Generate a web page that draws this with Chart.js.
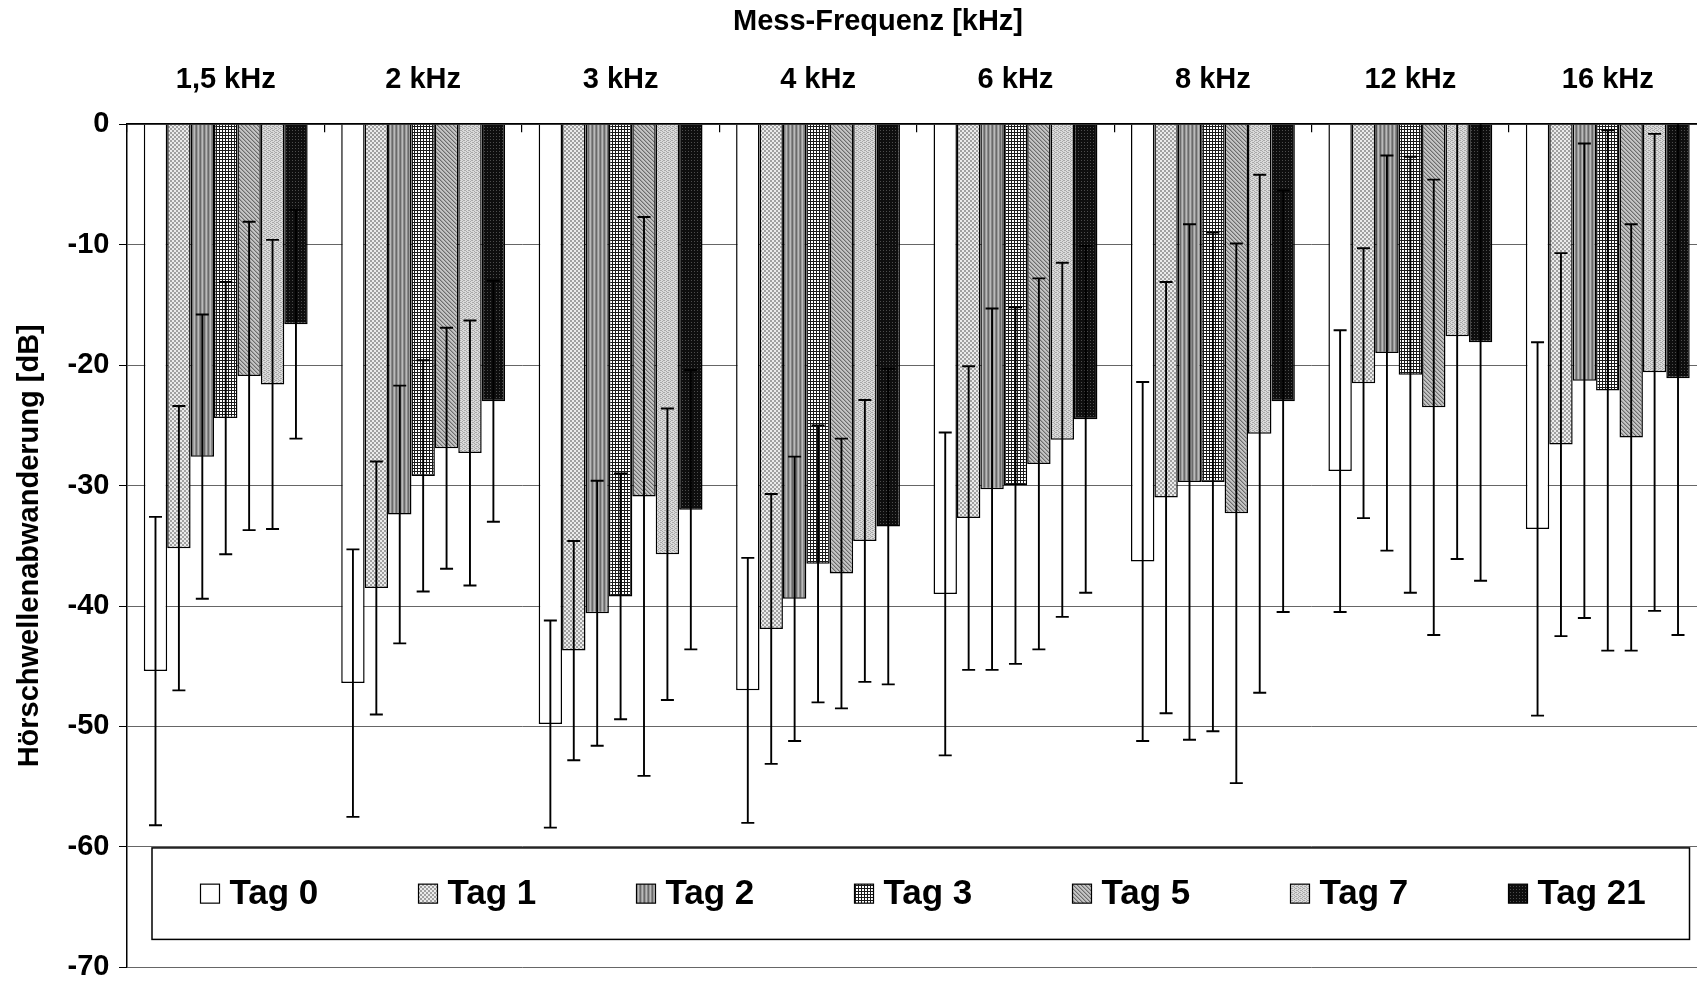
<!DOCTYPE html>
<html>
<head>
<meta charset="utf-8">
<title>Hörschwellenabwanderung</title>
<script src="https://cdn.jsdelivr.net/npm/chart.js@4.4.1/dist/chart.umd.min.js"></script>
<style>
  html, body { margin: 0; padding: 0; background: #fff; overflow: hidden; }
  #wrap { position: relative; width: 1712px; height: 983px; }
</style>
</head>
<body>
<div id="wrap"><canvas id="chart"></canvas></div>
<script>
const frequencies = ['1,5 kHz', '2 kHz', '3 kHz', '4 kHz', '6 kHz', '8 kHz', '12 kHz', '16 kHz']
const days = ['Tag 0', 'Tag 1', 'Tag 2', 'Tag 3', 'Tag 5', 'Tag 7', 'Tag 21']
const yTicks = [0, -10, -20, -30, -40, -50, -60, -70]

// mean threshold shift per day (dB), one value per frequency
const tag0 = [-45.4, -46.4, -49.8, -47.0, -39.0, -36.3, -28.8, -33.6]
const tag1 = [-35.2, -38.5, -43.7, -41.9, -32.7, -31.0, -21.5, -26.6]
const tag2 = [-27.6, -32.4, -40.6, -39.4, -30.3, -29.7, -19.0, -21.3]
const tag3 = [-24.4, -29.2, -39.2, -36.5, -30.0, -29.7, -20.8, -22.1]
const tag5 = [-20.9, -26.9, -30.9, -37.3, -28.2, -32.3, -23.5, -26.0]
const tag7 = [-21.6, -27.3, -35.7, -34.6, -26.2, -25.7, -17.6, -20.6]
const tag21 = [-16.6, -23.0, -32.0, -33.4, -24.5, -23.0, -18.1, -21.1]

// standard deviations for the error bars
const sd0 = [12.8, 11.1, 8.6, 11.0, 13.4, 14.9, 11.7, 15.5]
const sd1 = [11.8, 10.5, 9.1, 11.2, 12.6, 17.9, 11.2, 15.9]
const sd2 = [11.8, 10.7, 11.0, 11.8, 15.0, 21.4, 16.4, 19.7]
const sd3 = [11.3, 9.6, 10.2, 11.5, 14.8, 20.7, 18.1, 21.6]
const sd5 = [12.8, 10.0, 23.2, 11.2, 15.4, 22.4, 18.9, 17.7]
const sd7 = [12.0, 11.0, 12.1, 11.7, 14.7, 21.5, 18.5, 19.8]
const sd21 = [9.5, 10.0, 11.6, 13.1, 14.4, 17.5, 19.8, 21.3]

const means = [tag0, tag1, tag2, tag3, tag5, tag7, tag21]
const spreads = [sd0, sd1, sd2, sd3, sd5, sd7, sd21]

const FONT = "'Liberation Sans', Arial, sans-serif"

// small repeating tiles for the grey-scale bar fills
const tile = (w, h, draw) => {
  const c = document.createElement('canvas')
  c.width = w
  c.height = h
  const g = c.getContext('2d')
  draw(g)
  return g.createPattern(c, 'repeat')
}
const dots = (g, color, cells) => {
  g.fillStyle = color
  cells.forEach(([x, y]) => g.fillRect(x, y, 1, 1))
}

const fills = [
  '#ffffff',
  tile(4, 4, g => {
    g.fillStyle = '#ebebeb'
    g.fillRect(0, 0, 4, 4)
    dots(g, '#a0a0a0', [[2, 0], [3, 0], [2, 1], [3, 1], [0, 2], [1, 2], [0, 3], [1, 3]])
  }),
  tile(4, 1, g => {
    ;['#6a6a6a', '#9c9c9c', '#bababa', '#888888'].forEach((col, i) => {
      g.fillStyle = col
      g.fillRect(i, 0, 1, 1)
    })
  }),
  tile(3, 3, g => {
    g.fillStyle = '#ffffff'
    g.fillRect(0, 0, 3, 3)
    g.fillStyle = '#1a1a1a'
    g.fillRect(0, 0, 3, 1)
    g.fillRect(0, 0, 1, 3)
  }),
  tile(4, 4, g => {
    g.fillStyle = '#c4c4c4'
    g.fillRect(0, 0, 4, 4)
    dots(g, '#6c6c6c', [[0, 0], [1, 1], [2, 2], [3, 3]])
    dots(g, '#a0a0a0', [[1, 0], [2, 1], [3, 2], [0, 3]])
  }),
  tile(4, 4, g => {
    g.fillStyle = '#dadada'
    g.fillRect(0, 0, 4, 4)
    dots(g, '#a8a8a8', [[0, 0], [2, 1], [0, 2], [2, 3], [3, 0], [1, 2]])
  }),
  tile(3, 3, g => {
    g.fillStyle = '#0e0e0e'
    g.fillRect(0, 0, 3, 3)
    dots(g, '#4c4c4c', [[1, 1]])
  })
]

// mean ± sd whiskers, clipped to the plot area like the axis range
const errorBars = {
  id: 'errorBars',
  afterDatasetsDraw(chart) {
    const { ctx, chartArea } = chart
    const y = chart.scales.y
    ctx.save()
    ctx.beginPath()
    ctx.rect(chartArea.left, chartArea.top, chartArea.width, chartArea.height)
    ctx.clip()
    ctx.strokeStyle = '#000'
    ctx.lineWidth = 1.9
    chart.data.datasets.forEach((ds, i) => {
      chart.getDatasetMeta(i).data.forEach((bar, j) => {
        const v = ds.data[j]
        const e = ds.errors[j]
        const y1 = y.getPixelForValue(v + e)
        const y2 = y.getPixelForValue(v - e)
        ctx.beginPath()
        ctx.moveTo(bar.x, y1)
        ctx.lineTo(bar.x, y2)
        ctx.moveTo(bar.x - 6.5, y1)
        ctx.lineTo(bar.x + 6.5, y1)
        ctx.moveTo(bar.x - 6.5, y2)
        ctx.lineTo(bar.x + 6.5, y2)
        ctx.stroke()
      })
    })
    ctx.restore()
  }
}

// heading above the frequency labels and the boxed legend inside the plot
const frame = {
  id: 'frame',
  afterDraw(chart) {
    const { ctx, chartArea } = chart
    ctx.save()
    ctx.fillStyle = '#000'
    ctx.font = `bold 29px ${FONT}`
    ctx.textAlign = 'center'
    ctx.textBaseline = 'middle'
    ctx.fillText('Mess-Frequenz [kHz]', 878, 22)

    const left = chartArea.left + 25
    const right = chartArea.right - 17
    const top = chartArea.bottom - 119.5
    const bottom = chartArea.bottom - 28
    ctx.fillStyle = '#fff'
    ctx.fillRect(left, top, right - left, bottom - top)
    ctx.strokeStyle = '#000'
    ctx.lineWidth = 1.5
    ctx.strokeRect(left, top, right - left, bottom - top)

    const mid = (top + bottom) / 2
    ctx.font = `bold 35px ${FONT}`
    ctx.textAlign = 'left'
    chart.data.datasets.forEach((ds, i) => {
      const x = left + 48.5 + i * 218
      ctx.fillStyle = ds.backgroundColor
      ctx.fillRect(x, mid - 9.5, 19, 19)
      ctx.lineWidth = 1.2
      ctx.strokeRect(x, mid - 9.5, 19, 19)
      ctx.fillStyle = '#000'
      ctx.fillText(ds.label, x + 29, mid + 1)
    })
    ctx.restore()
  }
}

const tickFont = { family: FONT, size: 29, weight: 'bold', lineHeight: 1 }

new Chart(document.getElementById('chart'), {
  type: 'bar',
  data: {
    labels: frequencies,
    datasets: days.map((day, i) => ({
      label: day,
      data: means[i],
      errors: spreads[i],
      backgroundColor: fills[i],
      borderColor: '#000',
      borderWidth: 1.5,
      categoryPercentage: 0.83,
      barPercentage: 1
    }))
  },
  options: {
    responsive: true,
    maintainAspectRatio: false,
    animation: false,
    layout: { padding: { left: 0, right: 5.5, top: 0, bottom: 15.6 } },
    plugins: {
      legend: { display: false },
      tooltip: { enabled: false }
    },
    scales: {
      x: {
        position: 'top',
        grid: { drawOnChartArea: false, tickLength: -8, color: '#000', lineWidth: 1.2 },
        border: { color: '#000', width: 1.5 },
        ticks: { font: { family: FONT, size: 29, weight: 'bold' }, color: '#000', padding: 34.7, maxRotation: 0, autoSkip: false },
        afterFit: scale => { scale.height = 124.2 }
      },
      y: {
        min: -70,
        max: 0,
        afterBuildTicks: scale => { scale.ticks = yTicks.map(value => ({ value })) },
        ticks: { font: tickFont, color: '#000', padding: 9.5 },
        grid: { color: '#666', lineWidth: 1, tickColor: '#000', tickLength: 8 },
        border: { color: '#000', width: 1.5 },
        title: {
          display: true,
          text: 'Hörschwellenabwanderung [dB]',
          color: '#000',
          font: { family: FONT, size: 29, weight: 'bold' },
          padding: { top: 12.6, bottom: 0 }
        },
        afterFit: scale => {
          scale.width = 127
          scale.paddingTop = 0
          scale.paddingBottom = 0
        }
      }
    }
  },
  plugins: [errorBars, frame]
})
</script>
</body>
</html>
